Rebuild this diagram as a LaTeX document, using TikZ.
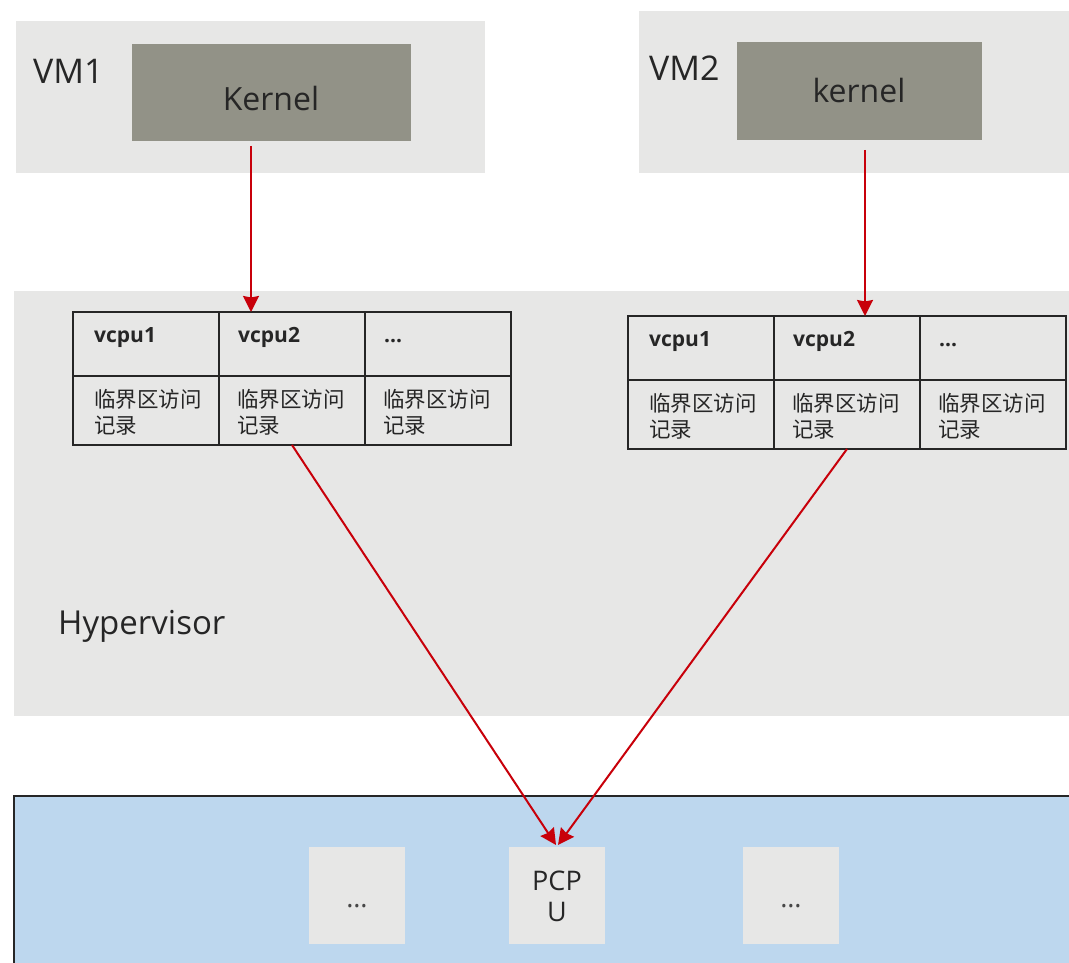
\documentclass[tikz,border=0pt]{standalone}
\usepackage{fontspec}
\setmainfont{Open Sans}
\newfontfamily\cjk{Noto Sans CJK SC}
\usetikzlibrary{arrows.meta,calc}

\definecolor{panel}{HTML}{E7E7E6}
\definecolor{kernelgray}{HTML}{929287}
\definecolor{hwblue}{HTML}{BDD7EE}
\definecolor{arrowred}{HTML}{C8000A}
\definecolor{ink}{HTML}{262626}

\tikzset{
  area/.style={fill=panel, draw=none, anchor=north west, inner sep=0, outer sep=0},
  kbox/.style={fill=kernelgray, draw=none, anchor=north west, inner sep=0, outer sep=0},
  cellbox/.style={draw=ink, line width=2.6pt, minimum width=146pt, anchor=north west, inner sep=0, outer sep=0},
  headrow/.style={cellbox, minimum height=64pt},
  recrow/.style={cellbox, minimum height=69pt},
  headtxt/.style={anchor=base west, inner sep=0, font=\fontsize{21}{25}\selectfont\bfseries, text=ink},
  rectxt/.style={anchor=base west, inner sep=0, font=\cjk\fontsize{21.5}{26}\selectfont, text=ink},
  bigtxt/.style={inner sep=0, font=\fontsize{32}{38}\selectfont, text=ink},
  cpubox/.style={fill=panel, draw=none, anchor=north west, inner sep=0, outer sep=0, minimum width=96pt, minimum height=97pt},
  flow/.style={draw=arrowred, line width=2pt, -{Stealth[length=16pt, width=16pt, inset=1.5pt]}},
}

\begin{document}
\begin{tikzpicture}[x=1pt, y=-1pt]
\useasboundingbox (0,0) rectangle (1069,963);
\fill[white] (0,0) rectangle (1069,963);

% virtual machines
\node[area, minimum width=469pt, minimum height=152pt] (vm1) at (16,21) {};
\node[area, minimum width=430pt, minimum height=162pt] (vm2) at (639,11) {};
\node[bigtxt, anchor=base west, font=\fontsize{34}{40}\selectfont] (vm1lbl) at (33,84) {VM1};
\node[bigtxt, anchor=base west, font=\fontsize{34}{40}\selectfont] (vm2lbl) at (649,81) {VM2};
\node[kbox, minimum width=279pt, minimum height=97pt] (k1) at (132,44) {};
\node[kbox, minimum width=245pt, minimum height=98pt] (k2) at (737,42) {};
\node[bigtxt, anchor=base] (k1lbl) at (271,111) {Kernel};
\node[bigtxt, anchor=base] (k2lbl) at (859,103) {kernel};

% hypervisor layer
\node[area, minimum width=1055pt, minimum height=425pt] (hv) at (14,291) {};
\node[inner sep=0, anchor=base west, font=\fontsize{33}{40}\selectfont, text=ink] (hvlbl) at (58,634) {Hypervisor};

% per-VM vcpu tables
\node[headrow] (t1h1) at (73,312) {};
\node[headrow] (t1h2) at (t1h1.north east) {};
\node[headrow] (t1h3) at (t1h2.north east) {};
\node[recrow] (t1b1) at (t1h1.south west) {};
\node[recrow] (t1b2) at (t1h2.south west) {};
\node[recrow] (t1b3) at (t1h3.south west) {};

\node[headrow] (t2h1) at (628,316) {};
\node[headrow] (t2h2) at (t2h1.north east) {};
\node[headrow] (t2h3) at (t2h2.north east) {};
\node[recrow] (t2b1) at (t2h1.south west) {};
\node[recrow] (t2b2) at (t2h2.south west) {};
\node[recrow] (t2b3) at (t2h3.south west) {};

\foreach \t in {t1,t2}{
  \node[headtxt] at ($(\t h1.north west)+(21,30)$) {vcpu1};
  \node[headtxt] at ($(\t h2.north west)+(19,30)$) {vcpu2};
  \node[headtxt] at ($(\t h3.north west)+(19,30)$) {...};
  \foreach \c/\dx in {1/21,2/18,3/18}{
    \node[rectxt] at ($(\t b\c.north west)+(\dx,31)$) {临界区访问};
    \node[rectxt] at ($(\t b\c.north west)+(\dx,57)$) {记录};
  }
}

% physical host
\node[fill=hwblue, draw=none, anchor=north west, inner sep=0, outer sep=0, minimum width=1056pt, minimum height=168pt] (host) at (14,796) {};
\draw[ink, line width=1.6pt] (host.north east) -- (host.north west) -- (host.south west);
\node[cpubox] (cpuL) at (309,847) {};
\node[cpubox] (pcpu) at (509,847) {};
\node[cpubox] (cpuR) at (743,847) {};
\node[inner sep=0, anchor=base, font=\fontsize{27}{32}\selectfont, text=ink!85] at ($(cpuL.center)+(0,12)$) {…};
\node[inner sep=0, anchor=base, font=\fontsize{27}{32}\selectfont, text=ink!85] at ($(cpuR.center)+(0,12)$) {…};
\node[inner sep=0, align=center, font=\fontsize{27}{31}\selectfont, text=ink] at ($(pcpu.center)+(0,1)$) {PCP\\U};

% connectors
\coordinate (a1) at (251,146);
\coordinate (a2) at (865,150);
\draw[flow] (a1) -- (a1 |- t1h2.north);
\draw[flow] (a2) -- (a2 |- t2h2.north);
\draw[flow] (t1b2.south) -- ($(pcpu.north)+(-1,-2)$);
\draw[flow] (t2b2.south) -- ($(pcpu.north)+(1,-2)$);
\end{tikzpicture}
\end{document}
